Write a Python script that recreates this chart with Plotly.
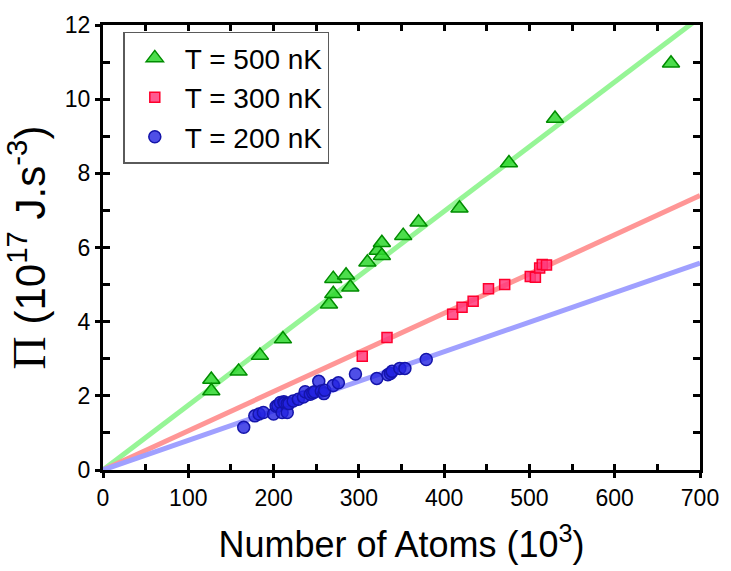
import plotly.graph_objects as go

# Number of atoms (10^3) and Pi (10^17 J.s^-3) for each temperature
x_500 = [127, 127, 159, 184, 211, 265, 270, 270, 285, 290, 310, 322, 327, 327,
         352, 370, 418, 476, 530, 666]
y_500 = [2.44, 2.13, 2.66, 3.09, 3.53, 4.47, 4.75, 5.16, 5.25, 4.93, 5.60, 5.92,
         6.13, 5.78, 6.32, 6.68, 7.06, 8.28, 9.48, 10.97]

x_300 = [304, 333, 410, 421, 434, 452, 471, 501, 507, 512, 515, 520]
y_300 = [3.07, 3.57, 4.20, 4.39, 4.55, 4.89, 5.00, 5.22, 5.20, 5.45, 5.54, 5.53]

x_200 = [165, 178, 183, 188, 200, 203, 205, 208, 210, 212, 213, 216, 216, 218,
         223, 229, 235, 237, 243, 246, 248, 253, 256, 259, 260, 270, 276, 296,
         321, 334, 337, 339, 348, 354, 379]
y_200 = [1.15, 1.46, 1.51, 1.55, 1.51, 1.72, 1.73, 1.82, 1.55, 1.84, 1.81, 1.79,
         1.55, 1.79, 1.86, 1.91, 1.97, 2.11, 2.04, 2.08, 2.11, 2.39, 2.13, 2.06,
         2.15, 2.28, 2.35, 2.59, 2.47, 2.57, 2.60, 2.66, 2.74, 2.74, 2.98]

# Linear fits through the origin (slope in 10^17 J.s^-3 per 10^3 atoms)
slope_500 = 0.01744
slope_300 = 0.01057
slope_200 = 0.00797
fit_x = [0, 700]

labels = ["T = 500 nK", "T = 300 nK", "T = 200 nK"]

fig = go.Figure()

# fit lines underneath the data
for slope, col in [(slope_500, "rgb(150,245,150)"),
                   (slope_300, "rgb(255,150,150)"),
                   (slope_200, "rgb(160,160,255)")]:
    fig.add_trace(go.Scatter(x=fit_x, y=[slope * v for v in fit_x], mode="lines",
                             line=dict(color=col, width=5), showlegend=False,
                             hoverinfo="skip"))

fig.add_trace(go.Scatter(x=x_500, y=y_500, mode="markers", name=labels[0],
                         marker=dict(symbol="triangle-up", size=15,
                                     color="rgba(45,215,45,0.85)",
                                     line=dict(color="rgb(0,140,0)", width=1.5))))
fig.add_trace(go.Scatter(x=x_300, y=y_300, mode="markers", name=labels[1],
                         marker=dict(symbol="square", size=10,
                                     color="rgba(255,60,125,0.85)",
                                     line=dict(color="rgb(255,0,45)", width=1.5))))
fig.add_trace(go.Scatter(x=x_200, y=y_200, mode="markers", name=labels[2],
                         marker=dict(symbol="circle", size=12,
                                     color="rgba(35,35,225,0.8)",
                                     line=dict(color="rgb(20,20,170)", width=1.5))))

axis_font = dict(family="Liberation Sans, Arial, sans-serif", size=23, color="black")

fig.update_layout(
    width=731, height=571,
    margin=dict(l=103, r=21, t=19, b=101),
    paper_bgcolor="white", plot_bgcolor="white",
    font=dict(family="Liberation Sans, Arial, sans-serif", color="black"),
    showlegend=True,
    legend=dict(x=0.034, y=0.985, xanchor="left", yanchor="top",
                bgcolor="white", bordercolor="rgb(90,90,90)", borderwidth=1.5,
                font=dict(size=28, family="Liberation Sans, Arial, sans-serif"),
                itemwidth=50, tracegroupgap=0),
    # inner ticks on all four sides, every minor step
    xaxis=dict(range=[0, 700], showgrid=False, zeroline=False,
               showline=True, linecolor="black", linewidth=2.5, mirror="allticks",
               ticks="inside", dtick=50, tick0=0, ticklen=6, tickwidth=2.5,
               tickcolor="black", showticklabels=False),
    yaxis=dict(range=[0, 12], showgrid=False, zeroline=False,
               showline=True, linecolor="black", linewidth=2.5, mirror="allticks",
               ticks="inside", dtick=1, tick0=0, ticklen=7, tickwidth=2.5,
               tickcolor="black", showticklabels=False),
    # labelled axes with outer major ticks
    xaxis2=dict(range=[0, 700], overlaying="x", anchor="y", side="bottom",
                showgrid=False, zeroline=False, showline=False,
                ticks="outside", dtick=100, tick0=0, ticklen=7, tickwidth=2.5,
                tickcolor="black", tickfont=axis_font,
                title=dict(text="Number of Atoms (10<sup>3</sup>)",
                           font=dict(size=36, color="black"), standoff=22)),
    yaxis2=dict(range=[0, 12], overlaying="y", anchor="x", side="left",
                showgrid=False, zeroline=False, showline=False,
                ticks="outside", dtick=2, tick0=0, ticklen=7, tickwidth=2.5,
                tickcolor="black", tickfont=axis_font,
                title=dict(text="<span style=\"font-family:'Liberation Serif', 'DejaVu Serif', serif; font-size:46px\">\u03a0</span> (10<sup>17</sup> J.s<sup>-3</sup>)",
                           font=dict(size=42, color="black"), standoff=6)),
)

# dummy trace to display the labelled axes
fig.add_trace(go.Scatter(x=[None], y=[None], xaxis="x2", yaxis="y2",
                         showlegend=False, hoverinfo="skip"))

fig.write_html("out.html")
